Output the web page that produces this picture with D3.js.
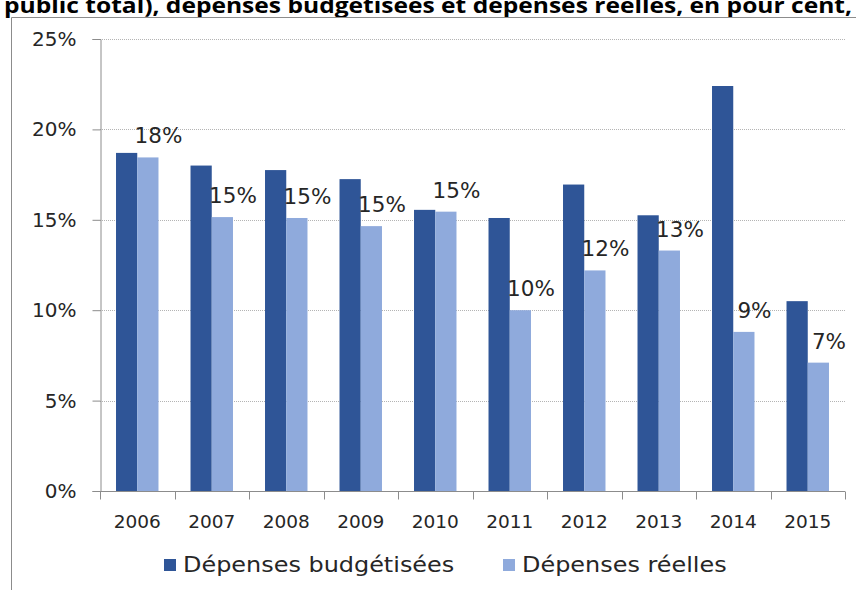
<!DOCTYPE html>
<html>
<head>
<meta charset="utf-8">
<script src="https://cdn.jsdelivr.net/npm/d3@7"></script>
<style>
  body { margin: 0; background: #fff; }
  svg { display: block; }
  text { font-family: "DejaVu Sans", Verdana, sans-serif; fill: #262626; }
</style>
</head>
<body>
<div id="chart"></div>
<script>
const WIDTH = 856,
  HEIGHT = 590,
  PLOT_LEFT = 100,
  PLOT_RIGHT = 845,
  PLOT_TOP = 39,
  PLOT_BOTTOM = 491;

const years = ["2006", "2007", "2008", "2009", "2010", "2011", "2012", "2013", "2014", "2015"];
const budgeted = [18.7, 18.0, 17.75, 17.25, 15.55, 15.1, 16.95, 15.25, 22.4, 10.5];
const actual = [18.45, 15.15, 15.1, 14.65, 15.45, 10.0, 12.2, 13.3, 8.8, 7.1];
const seriesNames = ["Dépenses budgétisées", "Dépenses réelles"];
const seriesColors = ["#2f5597", "#8faadc"];
const yTicks = [0, 5, 10, 15, 20, 25];
const titleText = "public total), dépenses budgétisées et dépenses réelles, en pour cent,";

var svg = d3
  .select("#chart")
  .append("svg")
  .attr("width", WIDTH)
  .attr("height", HEIGHT);

// title, partly cut off by the top of the picture as in the source
svg
  .append("text")
  .attr("x", 4)
  .attr("y", 13)
  .attr("textLength", 848)
  .attr("lengthAdjust", "spacingAndGlyphs")
  .style("font-family", "'Open Sans', 'DejaVu Sans', sans-serif")
  .style("font-weight", "bold")
  .style("font-size", "21px")
  .style("fill", "#000")
  .text(titleText);

// chart frame
svg
  .append("path")
  .attr("d", "M11.5," + HEIGHT + "V17.5H" + WIDTH)
  .attr("fill", "none")
  .attr("stroke", "#8c8c8c");

var y = d3.scaleLinear().domain([0, 25]).range([PLOT_BOTTOM, PLOT_TOP]);

var x0 = d3.scaleBand().domain(years).range([PLOT_LEFT, PLOT_RIGHT]);

var x1 = d3
  .scaleBand()
  .domain([0, 1])
  .range([x0.bandwidth() * 0.215, x0.bandwidth() * 0.785]);

// grid lines
svg
  .append("g")
  .selectAll("line")
  .data(yTicks.filter(function(d) { return d > 0; }))
  .enter()
  .append("line")
  .attr("x1", PLOT_LEFT)
  .attr("x2", PLOT_RIGHT)
  .attr("y1", function(d) { return Math.round(y(d)) + 0.5; })
  .attr("y2", function(d) { return Math.round(y(d)) + 0.5; })
  .attr("stroke", "#b4b4b4")
  .attr("stroke-dasharray", "1,1");

// y axis
var yAxis = svg
  .append("g")
  .attr("transform", "translate(" + (PLOT_LEFT + 0.5) + ",0)")
  .call(
    d3
      .axisLeft(y)
      .tickValues(yTicks)
      .tickSize(8)
      .tickPadding(16)
      .tickFormat(function(d) { return d + "%"; })
  );
yAxis.select(".domain").attr("stroke", "#8c8c8c");
yAxis.selectAll(".tick line").attr("stroke", "#8c8c8c");
yAxis
  .selectAll(".tick text")
  .style("font-size", "20px")
  .style("font-family", "'DejaVu Sans', sans-serif")
  .attr("fill", "#262626");

// bars
var groups = svg
  .append("g")
  .selectAll("g")
  .data(years)
  .enter()
  .append("g")
  .attr("transform", function(d) { return "translate(" + x0(d) + ",0)"; });

groups
  .selectAll("rect")
  .data(function(d, i) { return [budgeted[i], actual[i]]; })
  .enter()
  .append("rect")
  .attr("x", function(d, j) { return x1(j); })
  .attr("width", x1.bandwidth())
  .attr("y", function(d) { return y(d); })
  .attr("height", function(d) { return PLOT_BOTTOM - y(d); })
  .attr("fill", function(d, j) { return seriesColors[j]; });

// data labels on the actual spending bars
groups
  .append("text")
  .attr("x", x1(1) + x1.bandwidth())
  .attr("y", function(d, i) { return y(actual[i]) - 14; })
  .attr("text-anchor", "middle")
  .style("font-size", "21.5px")
  .text(function(d, i) { return Math.round(actual[i]) + "%"; });

// x axis
var xAxis = svg
  .append("g")
  .attr("transform", "translate(0," + (PLOT_BOTTOM + 0.5) + ")");
xAxis
  .append("line")
  .attr("x1", PLOT_LEFT)
  .attr("x2", PLOT_RIGHT)
  .attr("stroke", "#8c8c8c");
xAxis
  .selectAll(".xtick")
  .data(years.concat(["end"]))
  .enter()
  .append("line")
  .attr("class", "xtick")
  .attr("x1", function(d, i) { return Math.round(PLOT_LEFT + i * x0.step()) + 0.5; })
  .attr("x2", function(d, i) { return Math.round(PLOT_LEFT + i * x0.step()) + 0.5; })
  .attr("y2", 8)
  .attr("stroke", "#8c8c8c");
xAxis
  .selectAll(".xlabel")
  .data(years)
  .enter()
  .append("text")
  .attr("class", "xlabel")
  .attr("x", function(d) { return x0(d) + x0.bandwidth() / 2; })
  .attr("y", 36)
  .attr("text-anchor", "middle")
  .style("font-size", "18.5px")
  .text(function(d) { return d; });

// legend
var legendX = [164, 503];
var legend = svg
  .append("g")
  .selectAll("g")
  .data(seriesNames)
  .enter()
  .append("g")
  .attr("transform", function(d, i) { return "translate(" + legendX[i] + ",559)"; });
legend
  .append("rect")
  .attr("width", 12)
  .attr("height", 12)
  .attr("fill", function(d, i) { return seriesColors[i]; });
legend
  .append("text")
  .attr("transform", "translate(19,13) scale(1.14,1)")
  .style("font-size", "21px")
  .text(function(d) { return d; });
</script>
</body>
</html>
